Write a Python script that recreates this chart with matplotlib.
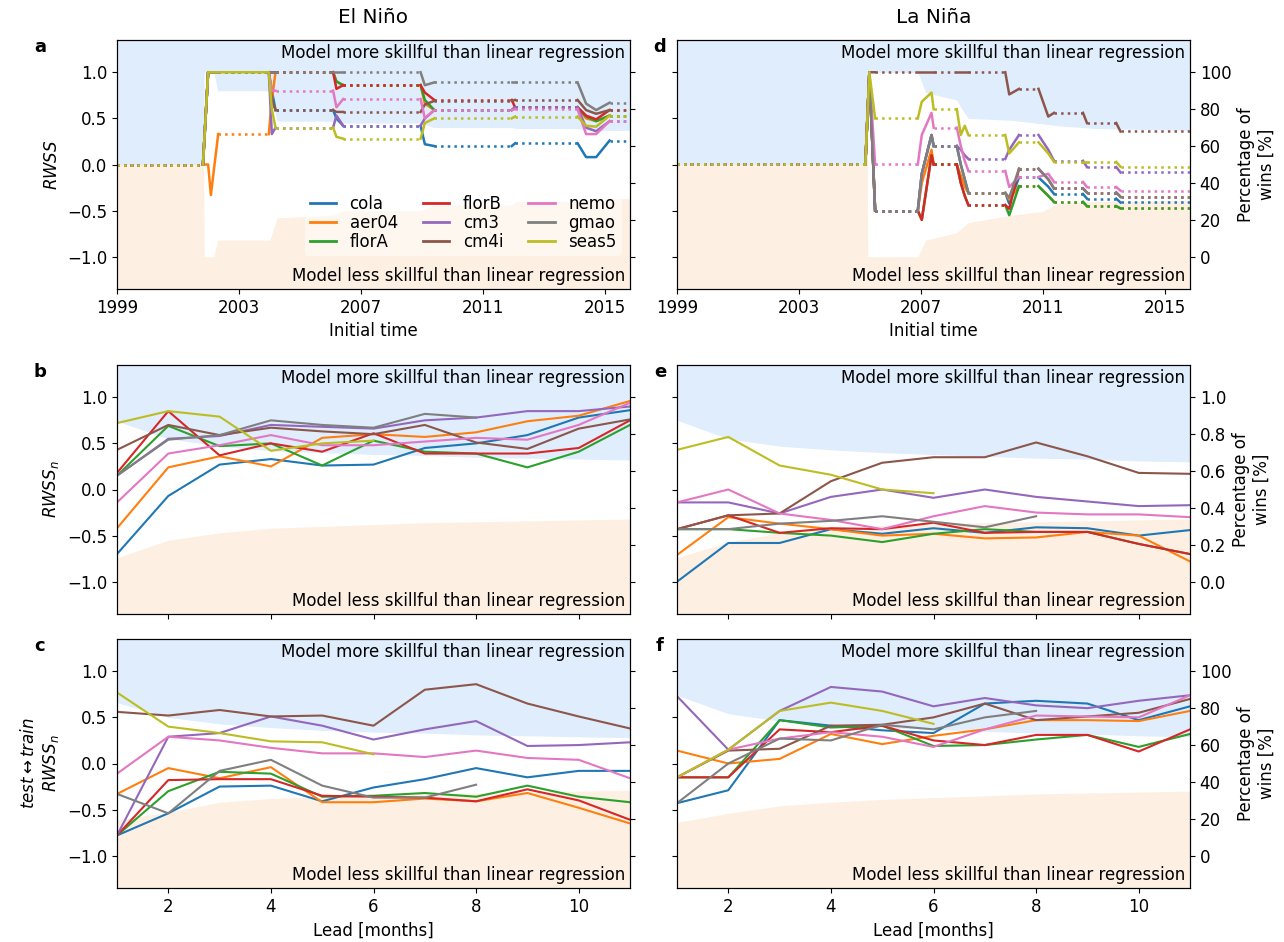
import numpy as np
import matplotlib
matplotlib.use("Agg")
import matplotlib.pyplot as plt
from matplotlib.lines import Line2D

MODELS = ["cola", "aer04", "florA", "florB", "cm3", "cm4i", "nemo", "gmao", "seas5"]
COLORS = [f"C{i}" for i in range(9)]
nan = np.nan

LEADS = np.arange(1, 12)

# --- a: El Nino, cumulative RWSS against initial time
nino_time = [1999.0, 2001.82, 2001.99, 2002.08, 2002.32, 2003.98, 2004.08, 2004.20,
             2006.09, 2006.20, 2006.42, 2008.96, 2009.10, 2009.41, 2011.95, 2012.06,
             2014.11, 2014.39, 2014.72, 2015.16, 2015.83]
nino_events = [(2001.82, 2002.32), (2003.98, 2004.20), (2006.09, 2006.42),
               (2008.96, 2009.41), (2011.95, 2012.06), (2014.11, 2015.16)]
# periods where a single model keeps updating between events
nino_extra_events = {"seas5": [(2002.32, 2003.98)]}
nino_rwss = {
    "cola":  [0, 0, 1, 1, 1, 1, 0.80, 0.59, 0.59, 0.50, 0.42, 0.42, 0.22, 0.20, 0.20, 0.23, 0.23, 0.08, 0.08, 0.26, 0.26],
    "aer04": [0, 0, 0, -0.33, 0.33, 0.33, 0.70, 1, 1, 0.90, 0.86, 0.86, 0.66, 0.59, 0.59, 0.62, 0.62, 0.50, 0.47, 0.53, 0.53],
    "florA": [0, 0, 1, 1, 1, 1, 1, 1, 1, 0.90, 0.86, 0.86, 0.70, 0.59, 0.59, 0.62, 0.62, 0.52, 0.47, 0.53, 0.53],
    "florB": [0, 0, 1, 1, 1, 1, 1, 1, 1, 0.82, 0.86, 0.86, 0.78, 0.70, 0.70, 0.62, 0.62, 0.53, 0.49, 0.59, 0.59],
    "cm3":   [0, 0, 1, 1, 1, 1, 0.33, 0.40, 0.40, 0.53, 0.42, 0.42, 0.50, 0.59, 0.59, 0.62, 0.62, 0.40, 0.36, 0.47, 0.47],
    "cm4i":  [0, 0, 1, 1, 1, 1, 0.70, 0.59, 0.59, 0.57, 0.57, 0.57, 0.65, 0.69, 0.69, 0.70, 0.70, 0.59, 0.55, 0.59, 0.59],
    "nemo":  [0, 0, 1, 1, 1, 1, 0.80, 0.80, 0.80, 0.62, 0.71, 0.71, 0.50, 0.59, 0.59, 0.60, 0.60, 0.33, 0.33, 0.47, 0.47],
    "gmao":  [0, 0, 1, 1, 1, 1, 1, 1, 1, 1, 1, 1, 0.86, 0.89, 0.89, 0.89, 0.89, 0.66, 0.59, 0.67, 0.67],
    "seas5": [0, 0, 1, 1, 1, 1, 0.60, 0.40, 0.40, 0.30, 0.28, 0.28, 0.45, 0.50, 0.50, 0.52, 0.52, 0.42, 0.41, 0.53, 0.53],
}
nino_thr_time = [1999.0, 2001.84, 2001.86, 2002.18, 2002.30, 2004.02, 2004.25, 2006.10,
                 2006.40, 2008.95, 2009.40, 2011.95, 2012.10, 2014.10, 2014.50, 2015.83]
nino_thr_upper = [0, 0, 1.0, 1.0, 0.80, 0.80, 0.47, 0.47, 0.45, 0.45, 0.40, 0.40, 0.39, 0.39, 0.37, 0.37]
nino_thr_lower = [0, 0, -1.0, -1.0, -0.82, -0.82, -0.58, -0.55, -0.50, -0.50, -0.44, -0.44, -0.40, -0.40, -0.37, -0.37]

# --- d: La Nina, percentage of wins against initial time
nina_time = [1999.0, 2005.18, 2005.31, 2005.50, 2006.90, 2007.03, 2007.35, 2007.42,
             2008.18, 2008.31, 2008.44, 2008.56, 2009.77, 2009.90, 2010.22, 2010.86,
             2011.18, 2011.37, 2012.32, 2012.45, 2013.41, 2013.55, 2015.83]
nina_events = [(2005.18, 2005.50), (2006.90, 2007.42), (2008.18, 2008.56), (2009.77, 2010.22),
               (2010.86, 2011.37), (2012.32, 2012.45), (2013.41, 2013.55)]
nina_extra_events = {}
nina_wins = {
    "cola":  [50, 50, 100, 25, 25, 45, 66, 60, 60, 50, 42, 34.6, 34.6, 28.8, 43, 43, 38, 34, 34, 31.5, 31.5, 29.4, 29.4],
    "aer04": [50, 50, 100, 25, 25, 40, 58, 50, 50, 44, 38, 34.6, 34.6, 31, 38.2, 38.2, 33, 29.7, 29.7, 27.4, 27.4, 26.2, 26.2],
    "florA": [50, 50, 100, 25, 25, 20, 55, 50, 50, 40, 33, 28, 28, 22.5, 38.2, 38.2, 33, 29.7, 29.7, 27.4, 27.4, 26.2, 26.2],
    "florB": [50, 50, 100, 25, 25, 20, 55, 50, 50, 40, 33, 28, 28, 26, 47.7, 47.7, 42, 37, 37, 34.8, 34.8, 32.5, 32.5],
    "cm3":   [50, 50, 100, 25, 25, 45, 66, 60, 60, 58, 55, 53, 53, 58, 66, 66, 58, 52, 52, 48.6, 48.6, 45.7, 45.7],
    "cm4i":  [50, 50, 100, 100, 100, 100, 100, 100, 100, 100, 100, 100, 100, 88, 91, 91, 76, 78, 78, 72.5, 72.5, 67.9, 67.9],
    "nemo":  [50, 50, 100, 50, 50, 66, 78, 70, 70, 60, 52, 46.5, 46.5, 37.8, 43.2, 43.2, 45, 40.5, 40.5, 37.8, 37.8, 35.8, 35.8],
    "gmao":  [50, 50, 100, 25, 25, 45, 66, 60, 60, 50, 42, 34.6, 34.6, 32, 47.7, 47.7, 42, 37, 37, 34.8, 34.8, 32.5, 32.5],
    "seas5": [50, 50, 100, 75, 75, 84, 89, 80, 80, 66, 71, 66, 66, 56, 62, 62, 56, 51.4, 51.4, 51.4, 51.4, 48.8, 48.8],
}
nina_thr_time = [1999.0, 2005.24, 2005.26, 2006.90, 2007.16, 2008.18, 2008.31, 2008.56,
                 2009.97, 2010.99, 2011.50, 2012.77, 2015.83]
nina_thr_upper = [0, 0, 1.0, 1.0, 0.78, 0.70, 0.62, 0.50, 0.48, 0.44, 0.42, 0.39, 0.37]
nina_thr_lower = [0, 0, -1.0, -1.0, -0.82, -0.74, -0.70, -0.63, -0.55, -0.51, -0.42, -0.40, -0.39]

# --- b: El Nino, RWSS_n against lead
nino_rwssn = {
    "cola":  [-0.70, -0.07, 0.27, 0.33, 0.26, 0.27, 0.45, 0.50, 0.59, 0.78, 0.86],
    "aer04": [-0.42, 0.24, 0.36, 0.25, 0.56, 0.60, 0.57, 0.62, 0.74, 0.80, 0.96],
    "florA": [0.15, 0.69, 0.47, 0.50, 0.26, 0.53, 0.41, 0.39, 0.24, 0.41, 0.70],
    "florB": [0.18, 0.85, 0.37, 0.50, 0.41, 0.61, 0.39, 0.39, 0.39, 0.45, 0.75],
    "cm3":   [0.15, 0.55, 0.58, 0.70, 0.68, 0.66, 0.75, 0.78, 0.85, 0.85, 0.90],
    "cm4i":  [0.43, 0.70, 0.59, 0.67, 0.63, 0.60, 0.70, 0.51, 0.44, 0.66, 0.76],
    "nemo":  [-0.14, 0.39, 0.48, 0.59, 0.48, 0.48, 0.52, 0.56, 0.54, 0.70, 0.94],
    "gmao":  [0.15, 0.54, 0.59, 0.75, 0.70, 0.67, 0.82, 0.78, nan, nan, nan],
    "seas5": [0.72, 0.85, 0.79, 0.42, 0.50, 0.53, nan, nan, nan, nan, nan],
}
nino_n_upper = [0.74, 0.55, 0.47, 0.42, 0.40, 0.38, 0.37, 0.35, 0.34, 0.33, 0.32]
nino_n_lower = [-0.74, -0.55, -0.47, -0.42, -0.40, -0.38, -0.36, -0.35, -0.34, -0.33, -0.32]

# --- e: La Nina, RWSS_n against lead
nina_rwssn = {
    "cola":  [-1.00, -0.58, -0.58, -0.43, -0.48, -0.42, -0.47, -0.41, -0.42, -0.50, -0.44],
    "aer04": [-0.71, -0.30, -0.37, -0.43, -0.50, -0.48, -0.53, -0.52, -0.46, -0.50, -0.78],
    "florA": [-0.43, -0.43, -0.47, -0.50, -0.57, -0.48, -0.43, -0.46, -0.46, -0.59, -0.70],
    "florB": [-0.43, -0.28, -0.47, -0.42, -0.43, -0.36, -0.47, -0.46, -0.46, -0.59, -0.70],
    "cm3":   [-0.14, -0.14, -0.26, -0.08, 0.00, -0.09, 0.00, -0.08, -0.13, -0.18, -0.17],
    "cm4i":  [-0.43, -0.28, -0.26, 0.09, 0.29, 0.35, 0.35, 0.51, 0.36, 0.18, 0.17],
    "nemo":  [-0.14, 0.00, -0.26, -0.33, -0.43, -0.29, -0.18, -0.25, -0.27, -0.27, -0.30],
    "gmao":  [-0.43, -0.43, -0.37, -0.34, -0.29, -0.35, -0.41, -0.29, nan, nan, nan],
    "seas5": [0.43, 0.57, 0.26, 0.16, 0.00, -0.04, nan, nan, nan, nan, nan],
}
nina_n_upper = [0.75, 0.55, 0.47, 0.43, 0.40, 0.38, 0.36, 0.34, 0.33, 0.31, 0.30]
nina_n_lower = [-0.74, -0.57, -0.47, -0.42, -0.39, -0.37, -0.36, -0.35, -0.34, -0.33, -0.32]

# --- c: El Nino, test <-> train RWSS_n
nino_swap = {
    "cola":  [-0.78, -0.54, -0.25, -0.24, -0.41, -0.26, -0.17, -0.05, -0.15, -0.08, -0.08],
    "aer04": [-0.33, -0.05, -0.16, -0.04, -0.42, -0.42, -0.38, -0.41, -0.32, -0.48, -0.65],
    "florA": [-0.78, -0.30, -0.09, -0.11, -0.36, -0.35, -0.32, -0.36, -0.24, -0.36, -0.42],
    "florB": [-0.78, -0.18, -0.17, -0.17, -0.35, -0.36, -0.37, -0.41, -0.28, -0.40, -0.61],
    "cm3":   [-0.78, 0.29, 0.33, 0.51, 0.41, 0.26, 0.37, 0.46, 0.19, 0.20, 0.23],
    "cm4i":  [0.56, 0.52, 0.58, 0.51, 0.52, 0.41, 0.80, 0.86, 0.65, 0.51, 0.38],
    "nemo":  [-0.11, 0.29, 0.25, 0.17, 0.11, 0.11, 0.07, 0.14, 0.06, 0.04, -0.16],
    "gmao":  [-0.33, -0.54, -0.08, 0.04, -0.24, -0.37, -0.37, -0.23, nan, nan, nan],
    "seas5": [0.77, 0.40, 0.33, 0.24, 0.23, 0.10, nan, nan, nan, nan, nan],
}
nino_s_upper = [0.66, 0.50, 0.43, 0.39, 0.36, 0.34, 0.33, 0.31, 0.30, 0.29, 0.28]
nino_s_lower = [-0.61, -0.53, -0.42, -0.38, -0.36, -0.34, -0.33, -0.32, -0.31, -0.30, -0.29]

# --- f: La Nina, test <-> train RWSS_n
nina_swap = {
    "cola":  [-0.43, -0.29, 0.47, 0.41, 0.36, 0.33, 0.65, 0.68, 0.65, 0.47, 0.62],
    "aer04": [0.14, 0.00, 0.05, 0.32, 0.21, 0.30, 0.37, 0.47, 0.47, 0.46, 0.57],
    "florA": [-0.15, -0.15, 0.47, 0.39, 0.41, 0.19, 0.20, 0.26, 0.31, 0.18, 0.32],
    "florB": [-0.15, -0.15, 0.37, 0.34, 0.41, 0.25, 0.20, 0.31, 0.31, 0.13, 0.37],
    "cm3":   [0.73, 0.15, 0.57, 0.83, 0.78, 0.62, 0.71, 0.63, 0.60, 0.68, 0.74],
    "cm4i":  [-0.15, 0.14, 0.16, 0.41, 0.42, 0.50, 0.65, 0.47, 0.51, 0.55, 0.70],
    "nemo":  [-0.15, 0.15, 0.27, 0.34, 0.29, 0.18, 0.37, 0.52, 0.51, 0.50, 0.74],
    "gmao":  [-0.43, 0.00, 0.27, 0.25, 0.42, 0.37, 0.50, 0.57, nan, nan, nan],
    "seas5": [-0.15, 0.15, 0.57, 0.66, 0.57, 0.43, nan, nan, nan, nan, nan],
}
nina_s_upper = [0.74, 0.54, 0.46, 0.42, 0.39, 0.37, 0.35, 0.33, 0.32, 0.30, 0.29]
nina_s_lower = [-0.64, -0.54, -0.46, -0.42, -0.39, -0.37, -0.35, -0.33, -0.32, -0.31, -0.30]

YMIN, YMAX = -1.35, 1.35
BLUE = "#dfedfc"
PEACH = "#fdefe2"
TIME_LIM = (1999.0, 2015.83)
plt.rcParams["font.size"] = 12


def shade(ax, x, upper, lower):
    ax.fill_between(x, upper, YMAX, color=BLUE, lw=0, zorder=0)
    ax.fill_between(x, YMIN, lower, color=PEACH, lw=0, zorder=0)
    ax.text(0.99, 0.985, "Model more skillful than linear regression", transform=ax.transAxes,
            ha="right", va="top")
    ax.text(0.99, 0.015, "Model less skillful than linear regression", transform=ax.transAxes,
            ha="right", va="bottom")


def plot_cumulative(ax, t, series, events, extra):
    t = np.asarray(t)
    mids = 0.5 * (t[:-1] + t[1:])
    for name, color in zip(MODELS, COLORS):
        windows = events + extra.get(name, [])
        solid = [any(a <= m <= b for a, b in windows) for m in mids]
        v = np.asarray(series[name], float)
        i = 0
        while i < len(mids):
            j = i
            while j + 1 < len(mids) and solid[j + 1] == solid[i]:
                j += 1
            ax.plot(t[i:j + 2], v[i:j + 2], color=color, lw=1.8,
                    ls="-" if solid[i] else ":")
            i = j + 1


def plot_leads(ax, series):
    for name, color in zip(MODELS, COLORS):
        ax.plot(LEADS, series[name], color=color, lw=1.5)


fig = plt.figure(figsize=(12.84, 9.42), dpi=100)
W, H = 1284, 942
col_x = [117, 677]
letter_x = [40, 660]
col_w = 513
row_top = [40, 365, 639]
row_h = 249

axes = {}
letters = [["a", "b", "c"], ["d", "e", "f"]]
for c in range(2):
    for r in range(3):
        ax = fig.add_axes([col_x[c] / W, 1 - (row_top[r] + row_h) / H, col_w / W, row_h / H])
        ax.set_ylim(YMIN, YMAX)
        ax.set_yticks([-1.0, -0.5, 0.0, 0.5, 1.0])
        if c == 1:
            ax.tick_params(labelleft=False)
        axes[letters[c][r]] = ax
        fig.text(letter_x[c] / W, 1 - (row_top[r] + 7) / H, letters[c][r],
                 fontweight="bold", fontsize=13, ha="center", va="center")

# a / d
shade(axes["a"], nino_thr_time, nino_thr_upper, nino_thr_lower)
plot_cumulative(axes["a"], nino_time, nino_rwss, nino_events, nino_extra_events)
shade(axes["d"], nina_thr_time, nina_thr_upper, nina_thr_lower)
twin_d = axes["d"].twinx()
twin_d.set_ylim((YMIN + 1) * 50, (YMAX + 1) * 50)
plot_cumulative(twin_d, nina_time, nina_wins, nina_events, nina_extra_events)
for key in ("a", "d"):
    ax = axes[key]
    ax.set_xlim(*TIME_LIM)
    ax.set_xticks([1999, 2003, 2007, 2011, 2015])
    ax.set_xlabel("Initial time")
axes["a"].set_ylabel("$RWSS$")
axes["a"].set_title("El Niño", pad=12)
axes["d"].set_title("La Niña", pad=12)

handles = [Line2D([], [], color=c, lw=2, label=m) for m, c in zip(MODELS, COLORS)]
leg = axes["a"].legend(handles=handles, ncol=3, loc="lower right", bbox_to_anchor=(1.0, 0.10),
                       frameon=True, facecolor="white", edgecolor="none", framealpha=0.5,
                       columnspacing=1.5, handlelength=1.6, borderpad=0.3, labelspacing=0.05)

# b / e
shade(axes["b"], LEADS, nino_n_upper, nino_n_lower)
plot_leads(axes["b"], nino_rwssn)
shade(axes["e"], LEADS, nina_n_upper, nina_n_lower)
plot_leads(axes["e"], nina_rwssn)
axes["b"].set_ylabel("$RWSS_n$")

# c / f
shade(axes["c"], LEADS, nino_s_upper, nino_s_lower)
plot_leads(axes["c"], nino_swap)
shade(axes["f"], LEADS, nina_s_upper, nina_s_lower)
plot_leads(axes["f"], nina_swap)
axes["c"].set_ylabel("$test \\leftrightarrow train$\n$RWSS_n$")

for key in ("b", "c", "e", "f"):
    ax = axes[key]
    ax.set_xlim(1, 11)
    ax.set_xticks([2, 4, 6, 8, 10])
for key in ("b", "e"):
    axes[key].tick_params(labelbottom=False)
for key in ("c", "f"):
    axes[key].set_xlabel("Lead [months]")

# right-hand percentage axes
for key in ("a", "b", "c", "d", "e", "f"):
    if key == "d":
        tw = twin_d
    else:
        tw = axes[key].twinx()
    if key in ("b", "e"):
        tw.set_ylim((YMIN + 1) / 2, (YMAX + 1) / 2)
        tw.set_yticks([0.0, 0.2, 0.4, 0.6, 0.8, 1.0])
    else:
        tw.set_ylim((YMIN + 1) * 50, (YMAX + 1) * 50)
        tw.set_yticks([0, 20, 40, 60, 80, 100])
    if key in ("a", "b", "c"):
        tw.tick_params(labelright=False)
    else:
        tw.set_ylabel("Percentage of\nwins [%]")

fig.savefig("out.png", dpi=100)
